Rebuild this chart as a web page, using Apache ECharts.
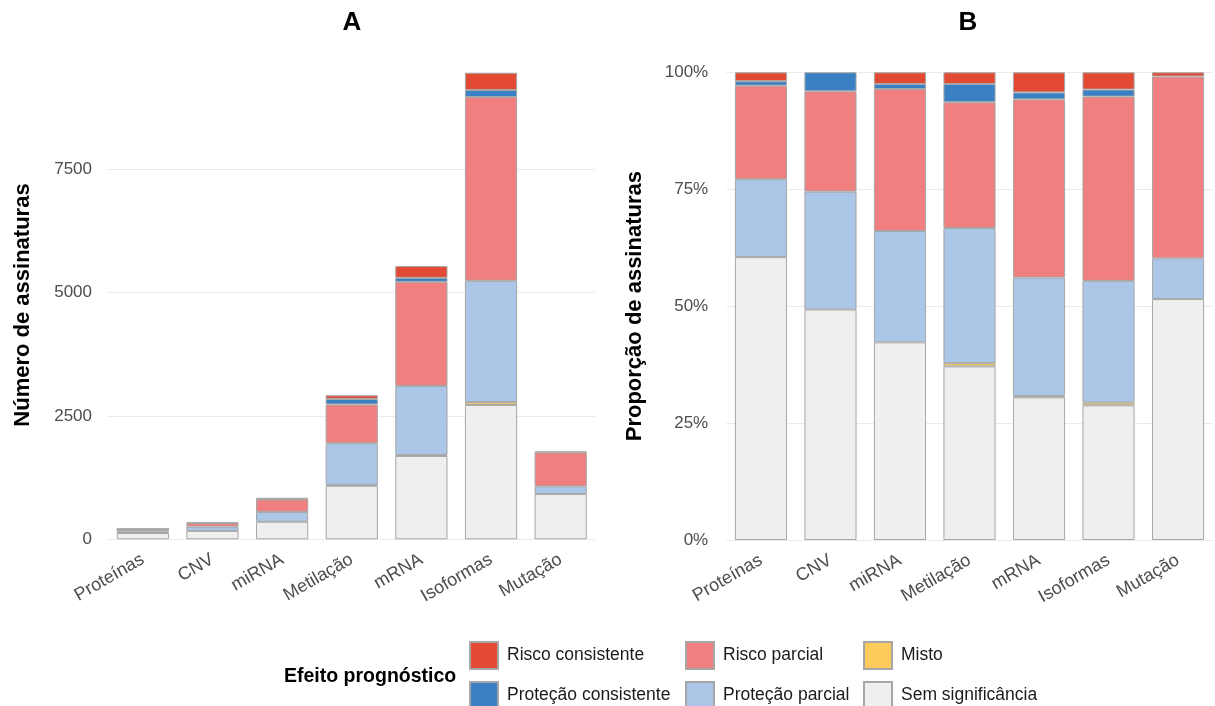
<!DOCTYPE html>
<html><head><meta charset="utf-8">
<script src="https://cdn.jsdelivr.net/npm/echarts@6/dist/echarts.min.js"></script>
<style>html,body{margin:0;padding:0;background:#fff}#c{width:1215px;height:706px}</style>
</head><body><div id="c"></div>
<script>
const categories = ['Proteínas','CNV','miRNA','Metilação','mRNA','Isoformas','Mutação'];
const semSignificancia    = [127, 170, 355, 1084, 1690, 2724, 917];
const misto               = [0, 0, 0, 20, 17, 57, 0];
const protecaoParcial     = [35, 87, 200, 844, 1402, 2460, 155];
const riscoParcial        = [42, 74, 255, 785, 2110, 3727, 692];
const protecaoConsistente = [2, 14, 9, 114, 83, 142, 0];
const riscoConsistente    = [4, 0, 21, 73, 238, 350, 16];
const countTicks = [0, 2500, 5000, 7500];
const pctTicks = [0, 25, 50, 75, 100];

const seriesNames = ['Sem significância','Misto','Proteção parcial','Risco parcial','Proteção consistente','Risco consistente'];
const seriesValues = [semSignificancia, misto, protecaoParcial, riscoParcial, protecaoConsistente, riscoConsistente];
const colors = ['#EFEFEF','#FCCB5C','#ABC6E6','#F08080','#3A80C4','#E34A33'];
const totals = categories.map((_, i) => seriesValues.reduce((s, a) => s + a[i], 0));
const FONT = '"Liberation Sans", Arial, sans-serif';
const AX = '#4D4D4D';

const series = [];
seriesNames.forEach((n, k) => {
  const base = {
    name: n, type: 'bar', barWidth: '75%',
    itemStyle: { color: colors[k], borderColor: '#A6A6A6', borderWidth: 1 },
    emphasis: { disabled: true }, animation: false
  };
  series.push(Object.assign({}, base, { xAxisIndex: 0, yAxisIndex: 0, stack: 'a',
    data: seriesValues[k].map(v => v === 0 ? '-' : v) }));
  series.push(Object.assign({}, base, { xAxisIndex: 1, yAxisIndex: 1, stack: 'b',
    data: seriesValues[k].map((v, i) => v === 0 ? '-' : 100 * v / totals[i]) }));
});

function xAxis(idx) {
  return {
    type: 'category', gridIndex: idx, data: categories,
    axisLine: { show: false }, axisTick: { show: false },
    axisLabel: { rotate: 30, color: AX, fontSize: 18, fontFamily: FONT, margin: 19, interval: 0 }
  };
}
const legendText = { fontSize: 17.5, color: '#1A1A1A', fontFamily: FONT, padding: [0, 0, 0, 4] };
function legend(name, left, top) {
  return { data: [name], left: left, top: top, orient: 'horizontal', icon: 'rect',
    itemWidth: 28, itemHeight: 27, selectedMode: false, textStyle: legendText };
}

const chart = echarts.init(document.getElementById('c'), null, { renderer: 'canvas' });
chart.setOption({
  animation: false,
  backgroundColor: '#fff',
  grid: [
    { left: 108, right: 619.5, top: 46.1, bottom: 166.7 },
    { left: 726.2, right: 2.2, top: 72.3, bottom: 166 }
  ],
  xAxis: [xAxis(0), xAxis(1)],
  yAxis: [
    { type: 'value', gridIndex: 0, min: 0, max: 10000, interval: 2500,
      axisLine: { show: false }, axisTick: { show: false },
      axisLabel: { color: AX, fontSize: 17, fontFamily: FONT, margin: 16, showMaxLabel: false,
        formatter: v => countTicks.includes(v) ? String(v) : '' },
      splitLine: { lineStyle: { color: '#EBEBEB', width: 1 }, showMaxLine: false } },
    { type: 'value', gridIndex: 1, min: 0, max: 100, interval: 25,
      axisLine: { show: false }, axisTick: { show: false },
      axisLabel: { color: AX, fontSize: 17, fontFamily: FONT, margin: 18,
        formatter: v => pctTicks.includes(v) ? v + '%' : '' },
      splitLine: { lineStyle: { color: '#EBEBEB', width: 1 } },
      name: 'Proporção de assinaturas', nameLocation: 'middle', nameGap: 80,
      nameTextStyle: { fontSize: 22, fontWeight: 'bold', color: '#000', fontFamily: FONT } }
  ],
  legend: [
    legend('Risco consistente', 464, 636),
    legend('Proteção consistente', 464, 676),
    legend('Risco parcial', 680, 636),
    legend('Proteção parcial', 680, 676),
    legend('Misto', 858, 636),
    legend('Sem significância', 858, 676)
  ],
  graphic: [
    { type: 'text', x: 352, y: 10, style: { text: 'A', fontSize: 26, fontWeight: 'bold', fontFamily: FONT, fill: '#000', align: 'center', verticalAlign: 'top' } },
    { type: 'text', x: 968, y: 10, style: { text: 'B', fontSize: 26, fontWeight: 'bold', fontFamily: FONT, fill: '#000', align: 'center', verticalAlign: 'top' } },
    { type: 'text', x: 23, y: 305, rotation: Math.PI / 2, style: { text: 'Número de assinaturas', fontSize: 22, fontWeight: 'bold', fontFamily: FONT, fill: '#000', align: 'center', verticalAlign: 'middle' } },
    { type: 'text', x: 284, y: 677, style: { text: 'Efeito prognóstico', fontSize: 19.5, fontWeight: 'bold', fontFamily: FONT, fill: '#000', align: 'left', verticalAlign: 'middle' } }
  ],
  series: series
});
</script>
</body></html>
